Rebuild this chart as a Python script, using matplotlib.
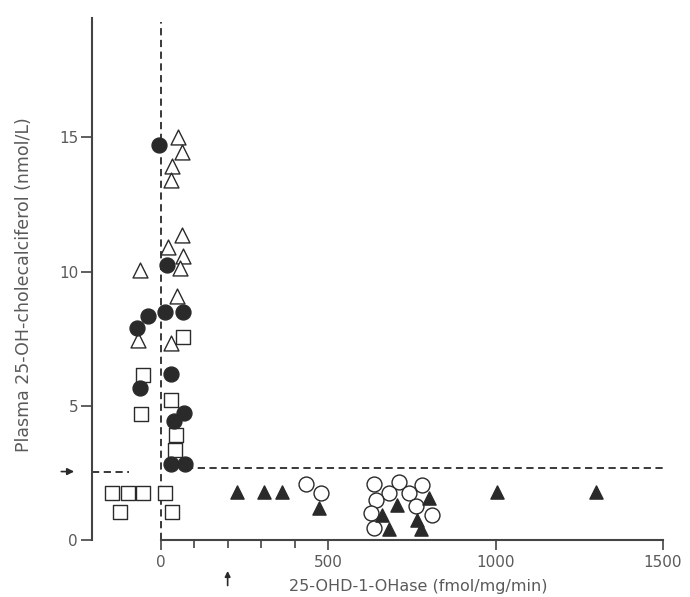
import numpy as np
import matplotlib.pyplot as plt
from matplotlib.ticker import FixedLocator

# open triangles
tri_o_x = [51, 63, 33, 30, 63, 21, 66, 57, -63, 48, -69, 30]
tri_o_y = [15.0, 14.45, 13.95, 13.4, 11.35, 10.9, 10.6, 10.15, 10.05, 9.1, 7.45, 7.35]

# filled circles
circ_f_x = [-6, 18, -72, -39, 12, 66, 30, -63, 69, 39, 30, 72]
circ_f_y = [14.7, 10.25, 7.9, 8.35, 8.5, 8.5, 6.2, 5.65, 4.75, 4.45, 2.85, 2.85]

# open squares
sq_o_x = [-54, -60, 66, 30, 45, 42, -146, -98, -54, 12, -122, 33]
sq_o_y = [6.15, 4.7, 7.55, 5.2, 3.9, 3.35, 1.75, 1.75, 1.75, 1.75, 1.05, 1.05]

# open circles
circ_o_x = [435, 480, 637, 712, 780, 682, 742, 643, 628, 762, 811, 637]
circ_o_y = [2.1, 1.75, 2.1, 2.15, 2.05, 1.75, 1.75, 1.5, 1.0, 1.25, 0.95, 0.45]

# filled triangles
tri_f_x = [229, 310, 363, 474, 1004, 1299, 706, 801, 661, 765, 682, 777]
tri_f_y = [1.8, 1.8, 1.8, 1.2, 1.8, 1.8, 1.3, 1.55, 0.95, 0.75, 0.4, 0.4]

ink = '#2a2a2a'
gray = '#5a5a5a'

fig = plt.figure(figsize=(6.9, 5.97), dpi=100)
ax = fig.add_axes([92/690, 57/597, (663-92)/690, (540-18)/597])
ax.set_xlim(-205, 1500)
ax.set_ylim(0, 19.45)

# dashed reference lines
ax.plot([0, 0], [0, 19.3], color=ink, lw=1.3, ls=(0, (4, 2.5)), zorder=1)
ax.plot([-205, -95], [2.55, 2.55], color=ink, lw=1.3, ls=(0, (4, 2.5)), zorder=1)
ax.plot([75, 1500], [2.7, 2.7], color=ink, lw=1.3, ls=(0, (4, 2.5)), zorder=1)

kw = dict(s=115, linewidths=1.0, clip_on=False, zorder=3)
ax.scatter(sq_o_x, sq_o_y, marker='s', facecolors='white', edgecolors=ink, **kw)
ax.scatter(tri_o_x, tri_o_y, marker='^', facecolors='white', edgecolors=ink, **kw)
ax.scatter(circ_f_x, circ_f_y, marker='o', facecolors=ink, edgecolors=ink, **kw)
ax.scatter(circ_o_x, circ_o_y, marker='o', facecolors='white', edgecolors=ink, **kw)
ax.scatter(tri_f_x, tri_f_y, marker='^', facecolors=ink, edgecolors=ink, s=90,
           linewidths=1.0, clip_on=False, zorder=4)

for s in ['top', 'right']:
    ax.spines[s].set_visible(False)
ax.spines['left'].set_bounds(0, 19.45)
ax.spines['bottom'].set_bounds(0, 1500)
for s in ['left', 'bottom']:
    ax.spines[s].set_color('#444444')
    ax.spines[s].set_linewidth(1.5)

ax.set_yticks([0, 5, 10, 15])
ax.set_xticks([0, 500, 1000, 1500])
ax.xaxis.set_minor_locator(FixedLocator([100, 200, 300, 400]))
ax.tick_params(axis='both', which='both', direction='out', color='#444444',
               width=1.2, labelcolor=gray, labelsize=11)
ax.tick_params(axis='y', length=8, pad=2)
ax.tick_params(axis='x', which='major', length=7, pad=4)
ax.tick_params(axis='x', which='minor', length=6)

# arrows
ax.annotate('', xy=(-250, 2.55), xytext=(-305, 2.55),
            arrowprops=dict(arrowstyle='-|>', color=ink, lw=1.2, mutation_scale=10),
            annotation_clip=False)
ax.annotate('', xy=(200, -1.05), xytext=(200, -1.8),
            arrowprops=dict(arrowstyle='-|>', color=ink, lw=1.2, mutation_scale=8),
            annotation_clip=False)

ax.text(768, -1.74, '25-OHD-1-OHase (fmol/mg/min)', ha='center', va='center',
        fontsize=11.5, color=gray)
fig.text(24/690, 1 - 285/597, 'Plasma 25-OH-cholecalciferol (nmol/L)', rotation=90,
         ha='center', va='center', fontsize=12.5, color=gray)

fig.savefig('out.png', dpi=100)
